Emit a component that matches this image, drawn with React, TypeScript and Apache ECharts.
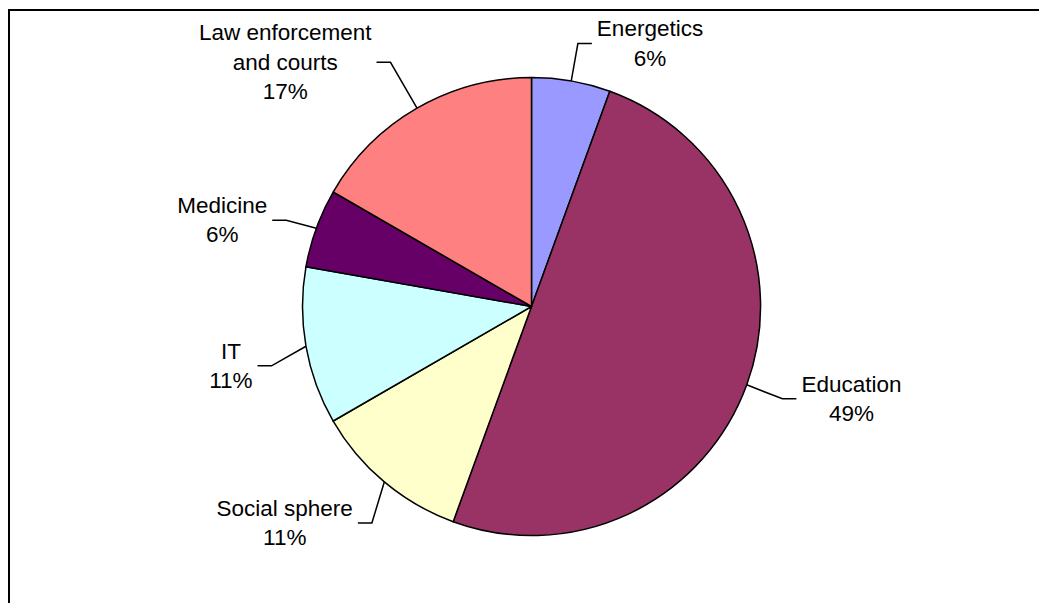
import React, { useEffect, useRef } from "react";
import * as echarts from "echarts";

const categories = [
  "Energetics",
  "Education",
  "Social sphere",
  "IT",
  "Medicine",
  "Law enforcement\nand courts",
];
const values = [1, 9, 2, 2, 1, 3];
const percentLabels = ["6%", "49%", "11%", "11%", "6%", "17%"];
const colors = ["#9999FF", "#993366", "#FFFFCC", "#CCFFFF", "#660066", "#FF8080"];

export default function App() {
  const ref = useRef<HTMLDivElement>(null);
  useEffect(() => {
    document.body.style.margin = "0";
    document.body.style.overflow = "hidden";
    if (!ref.current) return;
    // label-line tweaks (layout only)
    const lineLengths = [38, 38, 38, 38, 32, 53];
    const shiftX = [0, 0, 12, 3, 0, 0];
    const shiftY = [0, 1, 12, 13, 3, 0];
    const chart = echarts.init(ref.current, undefined, { renderer: "svg" });
    const font = "'Liberation Sans', Arial, sans-serif";
    chart.setOption({
      animation: false,
      backgroundColor: "#ffffff",
      graphic: [
        {
          type: "line",
          shape: { x1: 9, y1: 10, x2: 9, y2: 610 },
          style: { stroke: "#000", lineWidth: 2 },
        },
        {
          type: "line",
          shape: { x1: 8, y1: 10, x2: 1045, y2: 10 },
          style: { stroke: "#000", lineWidth: 2 },
        },
      ],
      series: [
        {
          type: "pie",
          center: [531.5, 306.5],
          radius: 229,
          startAngle: 90,
          clockwise: true,
          avoidLabelOverlap: false,
          itemStyle: { borderColor: "#000", borderWidth: 1.5 },
          emphasis: { disabled: true },
          label: {
            show: true,
            position: "outside",
            color: "#000",
            fontFamily: font,
            fontSize: 22.5,
            lineHeight: 29.5,
            formatter: (p: any) => {
              const lines = String(p.name)
                .split("\n")
                .map((l) => `{n|${l}}`);
              lines.push(`{n|${percentLabels[p.dataIndex]}}`);
              return lines.join("\n");
            },
            rich: {
              n: {
                align: "center",
                fontFamily: font,
                fontSize: 22.5,
                lineHeight: 29.5,
                color: "#000",
              },
            },
          },
          labelLine: {
            show: true,
            length: 38,
            length2: 14,
            smooth: false,
            lineStyle: { color: "#000", width: 1.5 },
          },
          labelLayout: (params: any) => {
            const i = params.dataIndex;
            const dx = shiftX[i];
            const dy = shiftY[i];
            const pts = params.labelLinePoints;
            const out: any = { dx, dy };
            if (pts && pts.length === 3) {
              out.labelLinePoints = [
                pts[0],
                [pts[1][0] + dx, pts[1][1] + dy],
                [pts[2][0] + dx, pts[2][1] + dy],
              ];
            }
            return out;
          },
          data: categories.map((c, i) => ({
            name: c,
            value: values[i],
            itemStyle: { color: colors[i] },
            labelLine: { length: lineLengths[i] },
          })),
        },
      ],
    });
    return () => chart.dispose();
  }, []);
  return <div ref={ref} style={{ width: 1039, height: 603 }} />;
}
